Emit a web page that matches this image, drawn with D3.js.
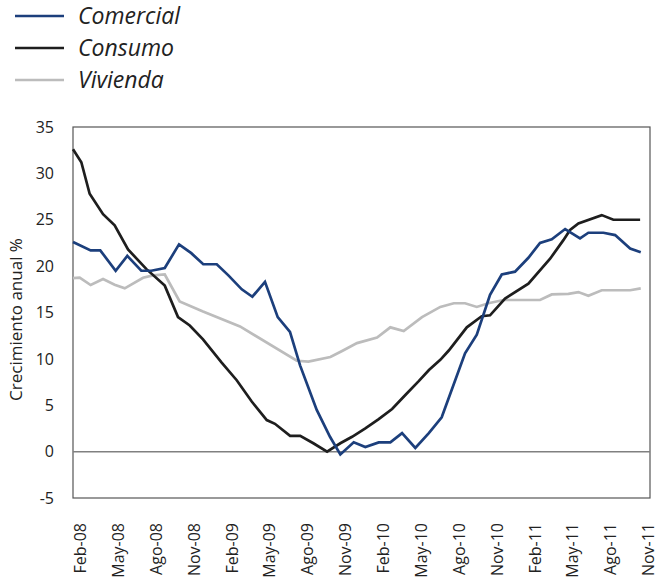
<!DOCTYPE html>
<html>
<head>
<meta charset="utf-8">
<script src="https://cdn.jsdelivr.net/npm/d3@7"></script>
<style>
  body { margin: 0; background: #fff; }
  svg { display: block; font-family: "Open Sans", sans-serif; }
</style>
</head>
<body>
<svg id="chart" width="664" height="582"></svg>
<script>
// Crecimiento anual de la cartera, meses contados desde feb-08
var tickLabels = ["Feb-08", "May-08", "Ago-08", "Nov-08", "Feb-09", "May-09", "Ago-09", "Nov-09",
                  "Feb-10", "May-10", "Ago-10", "Nov-10", "Feb-11", "May-11", "Ago-11", "Nov-11"];
var yTicks = [-5, 0, 5, 10, 15, 20, 25, 30, 35];

var comercialMes = [0, 1.4, 2.16, 3.38, 4.3, 5.41, 6.2, 7.27, 8.4, 9.37, 10.32, 11.39, 12.31, 13.37, 14.21,
                    15.21, 16.22, 17.19, 17.99, 19.31, 20.36, 21.18, 22.24, 23.16, 24.22, 25.14, 26.07, 27.12,
                    28.19, 29.21, 31.06, 31.99, 33.04, 33.97, 35.02, 36.08, 37.0, 37.93, 38.99, 40.17, 40.83,
                    42.02, 42.95, 44.14, 44.98];
var comercialVal = [22.6, 21.7, 21.7, 19.5, 21.1, 19.5, 19.5, 19.8, 22.35, 21.4, 20.2, 20.2, 19.0, 17.5, 16.7,
                    18.3, 14.5, 12.9, 9.3, 4.5, 1.6, -0.3, 1.0, 0.5, 1.0, 1.0, 2.0, 0.4,
                    2.0, 3.7, 10.6, 12.6, 16.9, 19.1, 19.4, 20.9, 22.5, 22.9, 24.0, 23.0, 23.6,
                    23.6, 23.35, 21.9, 21.5];

var consumoMes = [0, 0.66, 1.32, 2.38, 3.3, 4.36, 5.8, 7.27, 8.32, 9.25, 10.3, 11.78, 12.97, 14.16, 15.35,
                  16.0, 17.2, 18.0, 19.04, 20.13, 21.18, 22.11, 23.16, 24.22, 25.28, 26.33, 27.39, 28.2,
                  29.1, 29.77, 31.2, 32.38, 33.04, 34.23, 36.08, 37.8, 38.85, 39.38, 40.04, 41.89, 42.81, 44.93];
var consumoVal = [32.6, 31.2, 27.8, 25.6, 24.4, 21.8, 19.7, 17.9, 14.5, 13.6, 12.1, 9.6, 7.7, 5.4, 3.4,
                  3.0, 1.7, 1.7, 0.9, 0.0, 0.9, 1.6, 2.5, 3.5, 4.6, 6.1, 7.6, 8.8,
                  9.9, 10.9, 13.4, 14.6, 14.7, 16.5, 18.1, 20.8, 22.8, 23.9, 24.6, 25.5, 25.0, 25.0];

var viviendaMes = [0, 0.53, 1.4, 2.38, 3.3, 4.1, 5.55, 6.34, 7.27, 8.45, 10.3, 13.23, 17.73, 18.65, 20.39,
                   21.32, 22.5, 24.09, 25.14, 26.2, 27.65, 29.1, 30.17, 31.06, 31.99, 32.91, 34.1, 37.0,
                   37.93, 39.25, 40.04, 40.83, 41.89, 44.14, 44.98];
var viviendaVal = [18.7, 18.75, 17.96, 18.6, 18.0, 17.6, 18.75, 19.0, 19.1, 16.2, 15.1, 13.5, 9.8, 9.7, 10.2,
                   10.85, 11.7, 12.3, 13.4, 13.0, 14.5, 15.6, 16.0, 16.0, 15.6, 16.0, 16.35, 16.35,
                   16.95, 17.0, 17.2, 16.8, 17.4, 17.4, 17.6];

var seriesNames = ["Comercial", "Consumo", "Vivienda"];
var seriesColors = ["#1c3f7c", "#1e1e1e", "#bcbcbc"];

var svg = d3.select("#chart");

// plot area (note: "top" is a reserved window global, hence the names)
var plotL = 73, plotR = 650, plotT = 127, plotB = 498;
var x = d3.scaleLinear().domain([0, 45]).range([plotL, 641]);
var y = d3.scaleLinear().domain([-5, 35]).range([plotB, plotT]);

function zipSeries(mes, val) {
  return mes.map(function (m, i) { return { m: m, v: val[i] }; });
}
var series = [
  zipSeries(comercialMes, comercialVal),
  zipSeries(consumoMes, consumoVal),
  zipSeries(viviendaMes, viviendaVal)
];

// frame
svg.append("rect")
  .attr("x", plotL).attr("y", plotT)
  .attr("width", plotR - plotL).attr("height", plotB - plotT)
  .attr("fill", "none").attr("stroke", "#555").attr("stroke-width", 1.2);

// zero line
svg.append("line")
  .attr("x1", plotL).attr("x2", plotR)
  .attr("y1", y(0)).attr("y2", y(0))
  .attr("stroke", "#808080").attr("stroke-width", 1.5);

// y axis labels (plain hyphen for the negative, like the original)
var yAxis = d3.axisLeft(y)
  .tickValues(yTicks)
  .tickFormat(function (d) { return String(d); })
  .tickSize(0)
  .tickPadding(19);
svg.append("g")
  .attr("transform", "translate(" + plotL + ",0)")
  .call(yAxis)
  .call(function (g) { g.select(".domain").remove(); })
  .selectAll("text")
    .style("font-size", "16px")
    .style("font-family", "'Open Sans', sans-serif")
    .attr("fill", "#222");

svg.append("text")
  .attr("transform", "translate(22," + ((plotT + plotB) / 2 + 7) + ") rotate(-90)")
  .attr("text-anchor", "middle")
  .style("font-size", "17px")
  .style("font-family", "'Open Sans', sans-serif")
  .attr("fill", "#222")
  .text("Crecimiento anual %");

// x axis labels, one every three months
var xAxis = d3.axisBottom(x)
  .tickValues(d3.range(0, 46, 3))
  .tickFormat(function (d, i) { return tickLabels[i]; })
  .tickSize(0);
svg.append("g")
  .attr("transform", "translate(7," + plotB + ")")
  .call(xAxis)
  .call(function (g) { g.select(".domain").remove(); })
  .selectAll("text")
    .style("font-size", "16px")
    .style("font-family", "'Open Sans', sans-serif")
    .attr("fill", "#222")
    .attr("text-anchor", "end")
    .attr("transform", "rotate(-90)")
    .attr("x", -25)
    .attr("y", 0)
    .attr("dy", "0.35em");

// lines
var line = d3.line()
  .x(function (d) { return x(d.m); })
  .y(function (d) { return y(d.v); });

// draw gray first so the others sit on top
[2, 1, 0].forEach(function (k) {
  svg.append("path")
    .datum(series[k])
    .attr("d", line)
    .attr("fill", "none")
    .attr("stroke", seriesColors[k])
    .attr("stroke-width", 2.7)
    .attr("stroke-linejoin", "miter");
});

// legend
var legend = svg.append("g");
seriesNames.forEach(function (name, i) {
  var ly = 16 + i * 32;
  legend.append("line")
    .attr("x1", 15).attr("x2", 64)
    .attr("y1", ly).attr("y2", ly)
    .attr("stroke", seriesColors[i]).attr("stroke-width", 2.7);
  legend.append("text")
    .attr("x", 78).attr("y", ly)
    .attr("dy", "0.35em")
    .style("font-size", "23px")
    .style("font-style", "italic")
    .attr("fill", "#222")
    .text(name);
});
</script>
</body>
</html>
